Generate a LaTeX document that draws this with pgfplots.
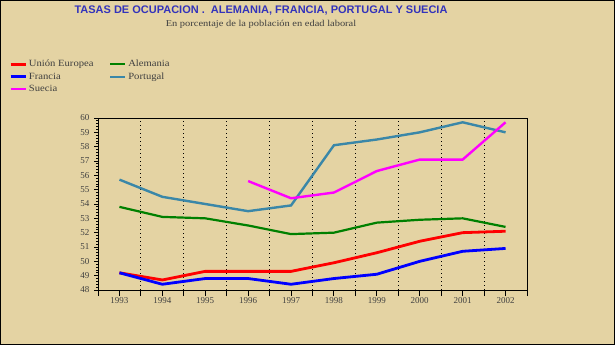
\documentclass[border=0pt]{standalone}
\usepackage{pgfplots}
\pgfplotsset{compat=1.18}
\usepackage{fontspec}
\setmainfont{Liberation Serif}
\newfontfamily\titlefont{Liberation Sans}
\definecolor{bg}{RGB}{228,211,163}
\definecolor{ttl}{RGB}{51,51,187}
\definecolor{txt}{RGB}{64,64,64}
\definecolor{port}{RGB}{58,135,168}
\definecolor{ger}{RGB}{0,128,0}
\definecolor{swe}{RGB}{255,0,255}
\definecolor{eu}{RGB}{255,0,0}
\definecolor{fra}{RGB}{0,0,255}
\begin{document}
\begin{tikzpicture}
\fill[bg] (0pt,0pt) rectangle (615pt,345pt);
\draw[black,line width=1pt] (0.5pt,0.5pt) rectangle (614.5pt,344.5pt);
\node[font=\titlefont\bfseries\fontsize{11}{12}\selectfont,text=ttl] at (261pt,334pt) {TASAS DE OCUPACION .\ \ ALEMANIA, FRANCIA, PORTUGAL Y SUECIA};
\node[font=\fontsize{9}{10}\selectfont,text=txt] at (261pt,320.5pt) {\scalebox{1.16}[1]{En porcentaje de la población en edad laboral}};
\begin{axis}[
  at={(98pt,55pt)}, anchor=south west,
  scale only axis, width=429pt, height=172pt,
  xmin=1992.5, xmax=2002.5, ymin=48, ymax=60,
  axis line style={black,line width=0.9pt},
  tick pos=left, tick align=outside,
  xtick={1992.5,1993.5,...,2002.5}, xticklabels={},
  xmajorgrids, grid style={black,line width=0.9pt,dash pattern=on 1pt off 3pt},
  extra x ticks={1993,1994,...,2002},
  extra x tick labels={1993,1994,1995,1996,1997,1998,1999,2000,2001,2002},
  extra x tick style={major tick length=0pt, grid=none},
  xtick style={black,line width=0.9pt,/pgfplots/major tick length=6pt},
  ytick={48,49,...,60},
  minor y tick num=4,
  ytick style={black,line width=0.8pt},
  major tick length=4pt, minor tick length=2pt,
  ticklabel style={font=\fontsize{9}{10}\selectfont, text=txt},
  /pgf/number format/assume math mode=true,
  xticklabel style={yshift=-4pt},
  yticklabel style={xshift=-1pt},
  legend columns=2,
  legend cell align=left,
  legend style={at={(-0.21,1.355)}, anchor=north west, draw=none, fill=none,
    font=\fontsize{9.5}{10}\selectfont, text=txt, row sep=0.5pt, inner sep=1pt},
  legend image code/.code={\draw[#1] (0pt,0pt) -- (15pt,0pt);},
]
\addplot[eu,line width=2.8pt] coordinates {(1993,49.2) (1994,48.7) (1995,49.3) (1996,49.3) (1997,49.3) (1998,49.9) (1999,50.6) (2000,51.4) (2001,52.0) (2002,52.1)};
\addlegendentry{\makebox[78pt][l]{\scalebox{1.12}[1]{Unión Europea}}}
\addplot[ger,line width=2.2pt] coordinates {(1993,53.8) (1994,53.1) (1995,53.0) (1996,52.5) (1997,51.9) (1998,52.0) (1999,52.7) (2000,52.9) (2001,53.0) (2002,52.4)};
\addlegendentry{\scalebox{1.12}[1]{Alemania}}
\addplot[fra,line width=2.8pt] coordinates {(1993,49.2) (1994,48.4) (1995,48.8) (1996,48.8) (1997,48.4) (1998,48.8) (1999,49.1) (2000,50.0) (2001,50.7) (2002,50.9)};
\addlegendentry{\makebox[78pt][l]{\scalebox{1.12}[1]{Francia}}}
\addplot[port,line width=2.4pt] coordinates {(1993,55.7) (1994,54.5) (1995,54.0) (1996,53.5) (1997,53.9) (1998,58.1) (1999,58.5) (2000,59.0) (2001,59.7) (2002,59.0)};
\addlegendentry{\scalebox{1.12}[1]{Portugal}}
\addplot[swe,line width=2.4pt] coordinates {(1996,55.6) (1997,54.4) (1998,54.8) (1999,56.3) (2000,57.1) (2001,57.1) (2002,59.7)};
\addlegendentry{\scalebox{1.12}[1]{Suecia}}
\end{axis}
\end{tikzpicture}
\end{document}
